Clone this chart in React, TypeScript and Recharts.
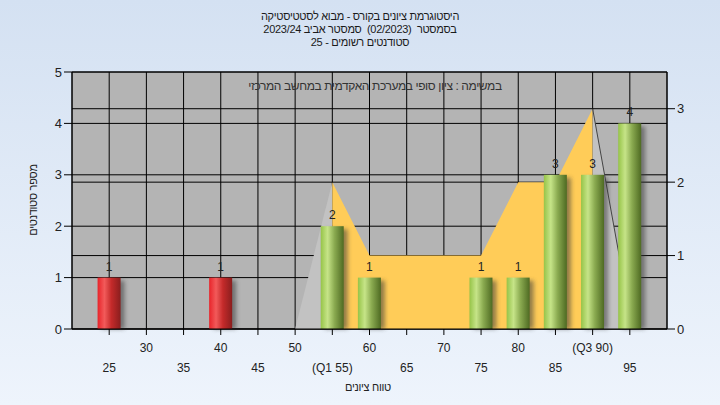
import {
  Area,
  Bar,
  CartesianGrid,
  ComposedChart,
  LabelList,
  XAxis,
  YAxis,
} from "recharts";

const tickScores = [25, 30, 35, 40, 45, 50, 55, 60, 65, 70, 75, 80, 85, 90, 95];
const q1Score = 55;
const q3Score = 90;

const barScores = [25, 40, 55, 60, 75, 80, 85, 90, 95];
const barCounts = [1, 1, 2, 1, 1, 1, 3, 3, 4];

const curveScores = [50, 55, 60, 65, 70, 75, 80, 85, 90, 95];
const curveValues = [0, 2, 1, 1, 1, 1, 2, 2, 3, 0.2];

const titleLines = [
  "היסטוגרמת ציונים בקורס - מבוא לסטטיסטיקה",
  "בסמסטר  (02/2023)  סמסטר אביב 2023/24",
  "סטודנטים רשומים - 25",
];
const subtitle = "במשימה : ציון סופי במערכת האקדמית במחשב המרכזי";
const yLabel = "מספר סטודנטים";
const xLabel = "טווח ציונים";

const allScores = Array.from(new Set([...barScores, ...curveScores])).sort(
  (a, b) => a - b
);

const data = allScores.map((score) => {
  const bi = barScores.indexOf(score);
  const ci = curveScores.indexOf(score);
  const v = ci >= 0 ? curveValues[ci] : null;
  return {
    score,
    count: bi >= 0 ? barCounts[bi] : null,
    low: v !== null && score <= q1Score ? v : null,
    mid: v !== null && score >= q1Score && score <= q3Score ? v : null,
    high: v !== null && score >= q3Score ? v : null,
  };
});

const tickLabel = (s: number) => {
  if (s === q1Score) return `(Q1 ${s})`;
  if (s === q3Score) return `(Q3 ${s})`;
  return `${s}`;
};

const FONT = "'Liberation Sans', Arial, sans-serif";

const XTick = (props: any) => {
  const { x, y, payload, index } = props;
  const secondRow = index % 2 === 0;
  return (
    <text
      x={x}
      y={y}
      dy={secondRow ? 35 : 15}
      textAnchor="middle"
      fontSize={12}
      fontFamily={FONT}
      fill="#222"
    >
      {tickLabel(payload.value)}
    </text>
  );
};

const CylinderBar = (props: any) => {
  const { x, y, width, height, payload } = props;
  if (!height || height <= 0) return null;
  const grad = payload.score < q1Score ? "url(#redBar)" : "url(#greenBar)";
  return (
    <g>
      <rect
        x={x + 4}
        y={y + 3}
        width={width}
        height={height - 3}
        fill="#3a3a3a"
        opacity={0.55}
        filter="url(#barShadow)"
      />
      <rect x={x} y={y} width={width} height={height} fill={grad} />
    </g>
  );
};

export default function App() {
  return (
    <div
      style={{
        position: "fixed",
        left: 0,
        top: 0,
        width: 720,
        height: 405,
        background: "linear-gradient(180deg, #D4E1F2 0%, #EEF4FC 100%)",
        fontFamily: FONT,
        overflow: "hidden",
      }}
    >
      <div
        style={{
          position: "absolute",
          left: 160,
          width: 400,
          top: 10,
          textAlign: "center",
          direction: "rtl",
          fontSize: 11,
          letterSpacing: "-0.3px",
          lineHeight: "13px",
          color: "#1a1a1a",
          whiteSpace: "pre",
        }}
      >
        {titleLines.map((t, i) => (
          <div key={i}>{t}</div>
        ))}
      </div>
      <ComposedChart
        width={720}
        height={405}
        data={data}
        margin={{ top: 72, right: 23, left: 32, bottom: 26 }}
      >
        <defs>
          <linearGradient id="redBar" x1="0" y1="0" x2="1" y2="0">
            <stop offset="0%" stopColor="#E8242A" />
            <stop offset="30%" stopColor="#F25A5A" />
            <stop offset="60%" stopColor="#C42A2A" />
            <stop offset="100%" stopColor="#8A1E1E" />
          </linearGradient>
          <linearGradient id="greenBar" x1="0" y1="0" x2="1" y2="0">
            <stop offset="0%" stopColor="#96C448" />
            <stop offset="30%" stopColor="#C6E488" />
            <stop offset="60%" stopColor="#8AAA50" />
            <stop offset="100%" stopColor="#4E6A22" />
          </linearGradient>
          <filter id="barShadow" x="-50%" y="-10%" width="200%" height="120%">
            <feGaussianBlur stdDeviation="2" />
          </filter>
        </defs>
        <CartesianGrid
          yAxisId="left"
          stroke="#000"
          strokeOpacity={1}
          fill="#B4B4B4"
          fillOpacity={1}
        />
        <CartesianGrid yAxisId="right" vertical={false} stroke="#000" />
        <XAxis
          dataKey="score"
          type="number"
          domain={[20, 100]}
          ticks={tickScores}
          interval={0}
          tick={<XTick />}
          tickSize={6}
          axisLine={{ stroke: "#000" }}
          tickLine={{ stroke: "#000" }}
          height={50}
          allowDataOverflow
        />
        <YAxis
          yAxisId="left"
          domain={[0, 5]}
          ticks={[0, 1, 2, 3, 4, 5]}
          width={40}
          tickSize={8}
          axisLine={{ stroke: "#000" }}
          tickLine={{ stroke: "#000" }}
          tick={{ fontSize: 13, fill: "#222", fontFamily: FONT }}
        />
        <YAxis
          yAxisId="right"
          orientation="right"
          domain={[0, 3.5]}
          ticks={[0, 1, 2, 3]}
          width={30}
          tickSize={8}
          axisLine={{ stroke: "#000" }}
          tickLine={{ stroke: "#000" }}
          tick={{ fontSize: 13, fill: "#222", fontFamily: FONT }}
        />
        <Area
          yAxisId="right"
          type="linear"
          dataKey="low"
          stroke="none"
          fill="#C2C2C2"
          fillOpacity={1}
          dot={false}
          activeDot={false}
          isAnimationActive={false}
        />
        <Area
          yAxisId="right"
          type="linear"
          dataKey="mid"
          stroke="none"
          fill="#FFCC58"
          fillOpacity={1}
          dot={false}
          activeDot={false}
          isAnimationActive={false}
        />
        <Area
          yAxisId="right"
          type="linear"
          dataKey="high"
          stroke="#444"
          strokeWidth={1}
          fill="#C2C2C2"
          fillOpacity={1}
          dot={false}
          activeDot={false}
          isAnimationActive={false}
        />
        <Bar
          yAxisId="left"
          dataKey="count"
          barSize={23}
          shape={<CylinderBar />}
          isAnimationActive={false}
        >
          <LabelList
            dataKey="count"
            position="top"
            offset={7}
            fontSize={12}
            fill="#222"
            fontFamily={FONT}
          />
        </Bar>
      </ComposedChart>
      <div
        style={{
          position: "absolute",
          left: 75,
          width: 600,
          top: 79,
          textAlign: "center",
          direction: "rtl",
          fontSize: 12,
          letterSpacing: "-0.4px",
          color: "#333",
        }}
      >
        {subtitle}
      </div>
      <div
        style={{
          position: "absolute",
          left: 33,
          top: 200,
          transform: "translate(-50%, -50%) rotate(-90deg)",
          direction: "rtl",
          fontSize: 11,
          letterSpacing: "-0.3px",
          color: "#222",
          whiteSpace: "nowrap",
        }}
      >
        {yLabel}
      </div>
      <div
        style={{
          position: "absolute",
          left: 268,
          width: 200,
          top: 381,
          textAlign: "center",
          direction: "rtl",
          fontSize: 11,
          letterSpacing: "-0.3px",
          color: "#222",
        }}
      >
        {xLabel}
      </div>
    </div>
  );
}
